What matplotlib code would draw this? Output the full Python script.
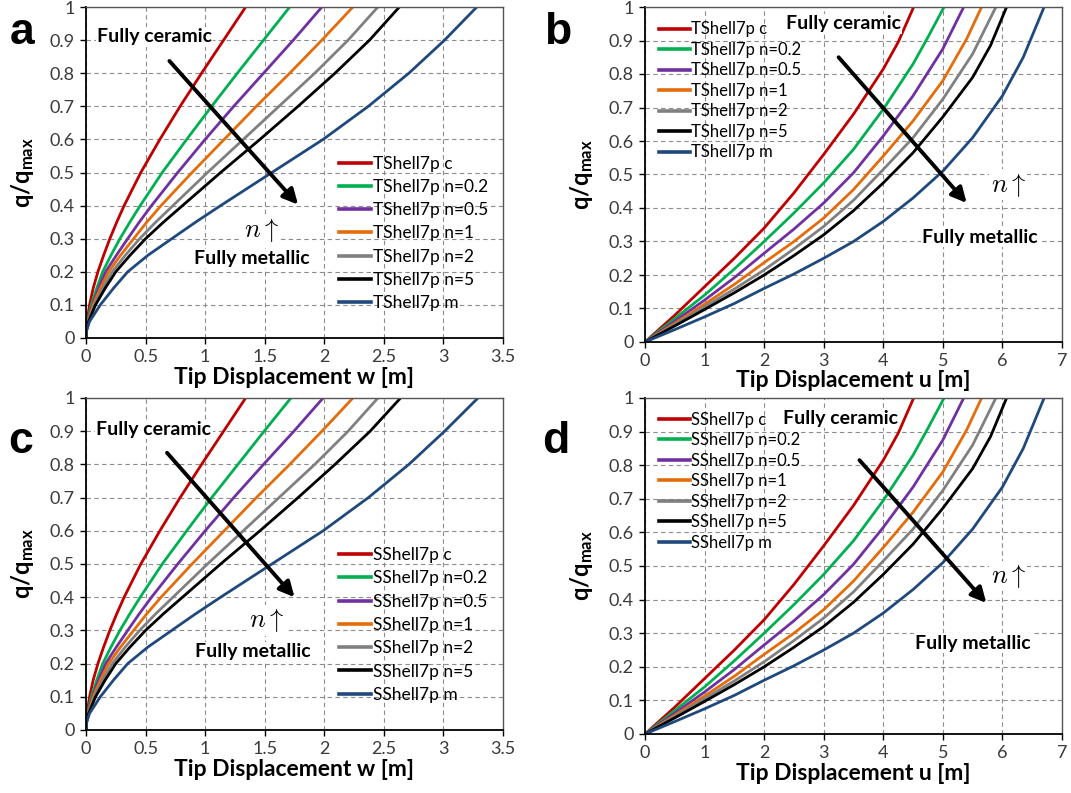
import matplotlib
matplotlib.use("Agg")
import matplotlib.pyplot as plt
from matplotlib.lines import Line2D

plt.rcParams['font.family'] = ['Lato', 'DejaVu Sans']
plt.rcParams['mathtext.fontset'] = 'custom'
plt.rcParams['mathtext.rm'] = 'Lato'
plt.rcParams['mathtext.bf'] = 'Lato:bold'
plt.rcParams['mathtext.it'] = 'Lato:italic'

# ---------------- data ----------------
series_suffix = ["c", "n=0.2", "n=0.5", "n=1", "n=2", "n=5", "m"]
colors = ["#C00000", "#00B050", "#7030A0", "#E46C0A", "#808080", "#000000", "#1F497D"]

# Panel a / c : load levels (y) and tip displacement w (x) for each curve
q_levels_w = [0, 0.025, 0.05, 0.1, 0.15, 0.2, 0.25, 0.3, 0.35, 0.4, 0.5, 0.6, 0.7, 0.8, 0.9, 1.0]
w_T_c   = [0, 0.002, 0.008, 0.03, 0.06, 0.10, 0.148, 0.20, 0.258, 0.32, 0.46, 0.62, 0.79, 0.97, 1.155, 1.34]
w_T_n02 = [0, 0.003, 0.012, 0.045, 0.09, 0.14, 0.21, 0.285, 0.368, 0.455, 0.64, 0.845, 1.055, 1.27, 1.49, 1.71]
w_T_n05 = [0, 0.004, 0.015, 0.055, 0.105, 0.165, 0.255, 0.35, 0.447, 0.55, 0.77, 1.00, 1.24, 1.49, 1.74, 1.98]
w_T_n1  = [0, 0.004, 0.017, 0.06, 0.12, 0.19, 0.29, 0.40, 0.51, 0.63, 0.89, 1.16, 1.43, 1.71, 1.98, 2.24]
w_T_n2  = [0, 0.005, 0.02, 0.07, 0.14, 0.22, 0.33, 0.45, 0.585, 0.73, 1.02, 1.32, 1.62, 1.92, 2.20, 2.45]
w_T_n5  = [0, 0.005, 0.022, 0.08, 0.16, 0.25, 0.37, 0.50, 0.65, 0.81, 1.13, 1.46, 1.78, 2.09, 2.38, 2.63]
w_T_m   = [0, 0.007, 0.03, 0.12, 0.23, 0.35, 0.52, 0.72, 0.92, 1.13, 1.56, 1.99, 2.37, 2.71, 3.01, 3.28]

w_S_c   = [0, 0.002, 0.008, 0.03, 0.06, 0.10, 0.148, 0.20, 0.258, 0.32, 0.46, 0.62, 0.79, 0.97, 1.155, 1.34]
w_S_n02 = [0, 0.003, 0.012, 0.045, 0.09, 0.14, 0.21, 0.285, 0.368, 0.455, 0.64, 0.845, 1.055, 1.275, 1.495, 1.72]
w_S_n05 = [0, 0.004, 0.015, 0.055, 0.105, 0.165, 0.255, 0.35, 0.447, 0.55, 0.77, 1.00, 1.24, 1.49, 1.745, 1.99]
w_S_n1  = [0, 0.004, 0.017, 0.06, 0.12, 0.19, 0.29, 0.40, 0.51, 0.63, 0.89, 1.16, 1.43, 1.71, 1.98, 2.24]
w_S_n2  = [0, 0.005, 0.02, 0.07, 0.14, 0.22, 0.33, 0.45, 0.585, 0.73, 1.02, 1.32, 1.62, 1.92, 2.20, 2.45]
w_S_n5  = [0, 0.005, 0.022, 0.08, 0.16, 0.25, 0.37, 0.50, 0.65, 0.81, 1.13, 1.46, 1.78, 2.09, 2.385, 2.64]
w_S_m   = [0, 0.007, 0.03, 0.12, 0.23, 0.35, 0.52, 0.72, 0.92, 1.13, 1.56, 1.99, 2.37, 2.71, 3.01, 3.29]

# Panel b / d : tip displacement u (x) and load level (y) per curve
u_T_c_x   = [0, 0.5, 1, 1.5, 2, 2.5, 3, 3.5, 4, 4.25, 4.51]
u_T_c_y   = [0, 0.08, 0.165, 0.25, 0.34, 0.445, 0.56, 0.68, 0.815, 0.895, 1.0]
u_T_n02_x = [0, 0.5, 1, 1.5, 2, 2.5, 3, 3.5, 4, 4.5, 4.75, 5.02]
u_T_n02_y = [0, 0.07, 0.14, 0.218, 0.30, 0.385, 0.475, 0.575, 0.695, 0.83, 0.91, 1.0]
u_T_n05_x = [0, 0.5, 1, 1.5, 2, 2.5, 3, 3.5, 4, 4.5, 5, 5.35]
u_T_n05_y = [0, 0.062, 0.125, 0.192, 0.265, 0.337, 0.415, 0.505, 0.615, 0.735, 0.875, 1.0]
u_T_n1_x  = [0, 0.5, 1, 1.5, 2, 2.5, 3, 3.5, 4, 4.5, 5, 5.4, 5.65]
u_T_n1_y  = [0, 0.056, 0.113, 0.172, 0.237, 0.30, 0.37, 0.455, 0.555, 0.66, 0.78, 0.905, 1.0]
u_T_n2_x  = [0, 0.5, 1, 1.5, 2, 2.5, 3, 3.5, 4, 4.5, 5, 5.5, 5.89]
u_T_n2_y  = [0, 0.052, 0.105, 0.158, 0.215, 0.278, 0.345, 0.423, 0.515, 0.61, 0.725, 0.86, 1.0]
u_T_n5_x  = [0, 0.5, 1, 1.5, 2, 2.5, 3, 3.5, 4, 4.5, 5, 5.5, 5.8, 6.07]
u_T_n5_y  = [0, 0.048, 0.097, 0.147, 0.20, 0.258, 0.32, 0.392, 0.475, 0.565, 0.672, 0.79, 0.885, 1.0]
u_T_m_x   = [0, 0.5, 1, 1.5, 2, 2.5, 3, 3.5, 4, 4.5, 5, 5.5, 6, 6.35, 6.7]
u_T_m_y   = [0, 0.037, 0.075, 0.115, 0.16, 0.203, 0.25, 0.30, 0.36, 0.43, 0.51, 0.61, 0.735, 0.85, 1.0]

u_S_c_x, u_S_c_y = list(u_T_c_x), list(u_T_c_y)
u_S_n02_x, u_S_n02_y = list(u_T_n02_x), list(u_T_n02_y)
u_S_n05_x, u_S_n05_y = list(u_T_n05_x), list(u_T_n05_y)
u_S_n1_x, u_S_n1_y = list(u_T_n1_x), list(u_T_n1_y)
u_S_n2_x, u_S_n2_y = list(u_T_n2_x), list(u_T_n2_y)
u_S_n5_x, u_S_n5_y = list(u_T_n5_x), list(u_T_n5_y)
u_S_m_x, u_S_m_y = list(u_T_m_x), list(u_T_m_y)

w_ticks = [0, 0.5, 1, 1.5, 2, 2.5, 3, 3.5]
w_ticklabels = ["0", "0.5", "1", "1.5", "2", "2.5", "3", "3.5"]
u_ticks = [0, 1, 2, 3, 4, 5, 6, 7]
u_ticklabels = ["0", "1", "2", "3", "4", "5", "6", "7"]
q_ticks = [0, 0.1, 0.2, 0.3, 0.4, 0.5, 0.6, 0.7, 0.8, 0.9, 1]
q_ticklabels = ["0", "0.1", "0.2", "0.3", "0.4", "0.5", "0.6", "0.7", "0.8", "0.9", "1"]

# ---------------- figure ----------------
W, H = 1071, 793
fig = plt.figure(figsize=(W / 100, H / 100), dpi=100)


def ax_at(l, r, t, b):
    return fig.add_axes([l / W, 1 - b / H, (r - l) / W, (b - t) / H])


def style(ax, xmax, xticks, xtl, xlabel):
    ax.set_xlim(0, xmax)
    ax.set_ylim(0, 1)
    ax.set_xticks(xticks)
    ax.set_xticklabels(xtl)
    ax.set_yticks(q_ticks)
    ax.set_yticklabels(q_ticklabels)
    ax.grid(True, color="#8c8c8c", linestyle=(0, (4, 3)), linewidth=0.8)
    ax.set_axisbelow(True)
    ax.tick_params(direction="out", length=4, width=1, labelsize=13,
                   labelcolor="#3a3a3a", color="black", pad=4)
    for s in ["left", "bottom"]:
        ax.spines[s].set_color("black")
        ax.spines[s].set_linewidth(1.3)
    for s in ["top", "right"]:
        ax.spines[s].set_color("#555555")
        ax.spines[s].set_linewidth(1.0)
    ax.set_xlabel(xlabel, fontsize=16.5, fontweight="bold", labelpad=1)
    ax.set_ylabel(r"$\mathbf{q/q_{max}}$", fontsize=17, labelpad=10)


def annotate(ax, cer, arr0, arr1, nup, met):
    box = dict(facecolor="white", edgecolor="none", pad=1.0)
    ax.text(cer[0], cer[1], "Fully ceramic", fontsize=14, fontweight="bold",
            ha="center", va="center", bbox=box, zorder=5)
    ax.text(met[0], met[1], "Fully metallic", fontsize=14, fontweight="bold",
            ha="center", va="center", bbox=box, zorder=5)
    ax.text(nup[0], nup[1], r"$n\uparrow$", fontsize=19, math_fontfamily="cm",
            ha="center", va="center", bbox=box, zorder=5)
    ax.annotate("", xy=arr1, xytext=arr0,
                arrowprops=dict(arrowstyle="-|>,head_length=0.9,head_width=0.45",
                                color="black", lw=2.8, shrinkA=0, shrinkB=0),
                zorder=6)


def legend(ax, prefix, fs, anchor, spacing):
    handles = [Line2D([0], [0], color=c, lw=2.6) for c in colors]
    labels = [prefix + " " + s for s in series_suffix]
    ax.legend(handles, labels, loc="upper left", bbox_to_anchor=anchor,
              frameon=False, fontsize=fs, handlelength=1.85, handletextpad=0.1,
              labelspacing=spacing, borderpad=0, borderaxespad=0)


# Panel a
axa = ax_at(86, 503, 7, 338)
for xs, c in zip([w_T_c, w_T_n02, w_T_n05, w_T_n1, w_T_n2, w_T_n5, w_T_m], colors):
    axa.plot(xs, q_levels_w, color=c, lw=2.0, solid_capstyle="round", solid_joinstyle="round")
style(axa, 3.5, w_ticks, w_ticklabels, "Tip Displacement w [m]")
annotate(axa, (0.575, 0.91), (0.70, 0.837), (1.78, 0.403), (1.47, 0.325), (1.39, 0.24))
legend(axa, "TShell7p", 12.5, (0.607, 0.551), 0.42)

# Panel b
axb = ax_at(645, 1062, 7, 342)
for xs, ys, c in zip([u_T_c_x, u_T_n02_x, u_T_n05_x, u_T_n1_x, u_T_n2_x, u_T_n5_x, u_T_m_x],
                     [u_T_c_y, u_T_n02_y, u_T_n05_y, u_T_n1_y, u_T_n2_y, u_T_n5_y, u_T_m_y], colors):
    axb.plot(xs, ys, color=c, lw=2.0, solid_capstyle="round", solid_joinstyle="round")
style(axb, 7, u_ticks, u_ticklabels, "Tip Displacement u [m]")
annotate(axb, (3.33, 0.95), (3.25, 0.85), (5.40, 0.415), (6.1, 0.47), (5.62, 0.313))
legend(axb, "TShell7p", 12, (0.033, 0.957), 0.27)

# Panel c
axc = ax_at(86, 503, 398, 730)
for xs, c in zip([w_S_c, w_S_n02, w_S_n05, w_S_n1, w_S_n2, w_S_n5, w_S_m], colors):
    axc.plot(xs, q_levels_w, color=c, lw=2.0, solid_capstyle="round", solid_joinstyle="round")
style(axc, 3.5, w_ticks, w_ticklabels, "Tip Displacement w [m]")
annotate(axc, (0.57, 0.905), (0.68, 0.835), (1.75, 0.40), (1.52, 0.33), (1.40, 0.235))
legend(axc, "SShell7p", 12.5, (0.607, 0.551), 0.42)

# Panel d
axd = ax_at(645, 1062, 398, 734)
for xs, ys, c in zip([u_S_c_x, u_S_n02_x, u_S_n05_x, u_S_n1_x, u_S_n2_x, u_S_n5_x, u_S_m_x],
                     [u_S_c_y, u_S_n02_y, u_S_n05_y, u_S_n1_y, u_S_n2_y, u_S_n5_y, u_S_m_y], colors):
    axd.plot(xs, ys, color=c, lw=2.0, solid_capstyle="round", solid_joinstyle="round")
style(axd, 7, u_ticks, u_ticklabels, "Tip Displacement u [m]")
annotate(axd, (3.28, 0.94), (3.6, 0.815), (5.73, 0.39), (6.1, 0.47), (5.51, 0.27))
legend(axd, "SShell7p", 12, (0.033, 0.959), 0.27)

# Panel letters
for lbl, (px, py) in zip(["a", "b", "c", "d"], [(22, 44), (558, 44), (21, 453), (556, 453)]):
    fig.text(px / W, 1 - py / H, lbl, fontsize=32, fontweight="bold",
             ha="center", va="baseline", family=["Liberation Sans", "DejaVu Sans"])

fig.savefig("out.png", dpi=100)
